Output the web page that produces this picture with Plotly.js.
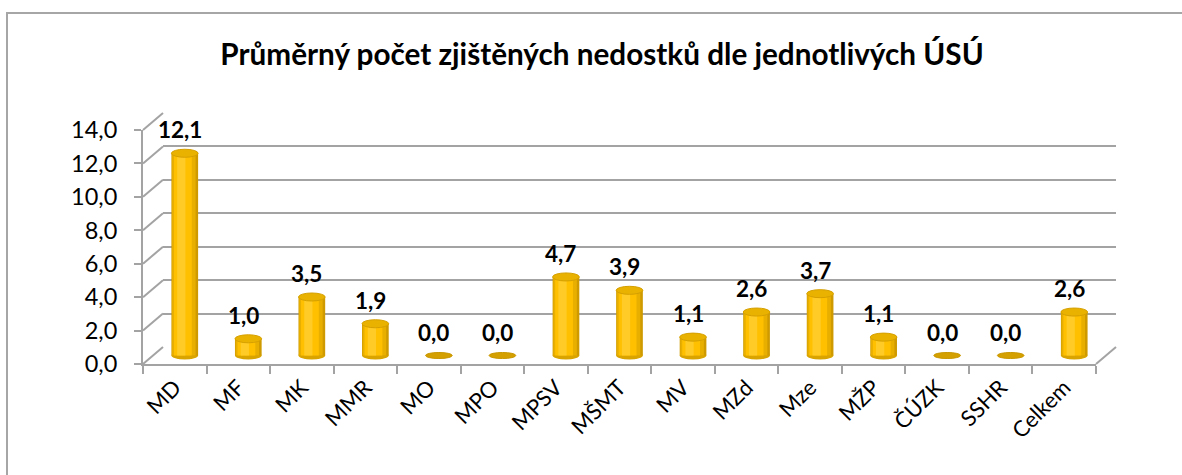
<!DOCTYPE html>
<html>
<head>
<meta charset="utf-8">
<script src="https://cdn.plot.ly/plotly-3.0.1.min.js"></script>
<style>html,body{margin:0;padding:0;background:#fff;}#chart{width:1182px;height:475px;}</style>
</head>
<body>
<div id="chart"></div>
<script>
// ---- data ----
const categories = ["MD","MF","MK","MMR","MO","MPO","MPSV","MŠMT","MV","MZd","Mze","MŽP","ČÚZK","SSHR","Celkem"];
const values = [12.1, 1.0, 3.5, 1.9, 0.0, 0.0, 4.7, 3.9, 1.1, 2.6, 3.7, 1.1, 0.0, 0.0, 2.6];
const yTicks = [0, 2, 4, 6, 8, 10, 12, 14];
const chartTitle = "Průměrný počet zjištěných nedostků dle jednotlivých ÚSÚ";

// ---- geometry (pixels) ----
const W = 1182, H = 475;
const px = x => x / W;
const py = y => 1 - y / H;
const front = {x0: 143, x1: 1096, y0: 364, y1: 130};
const depth = {dx: 20, dy: -17};
const back = {x0: front.x0 + depth.dx, x1: front.x1 + depth.dx, y0: front.y0 + depth.dy, y1: front.y1 + depth.dy};
const mid = {x0: front.x0 + depth.dx/2, x1: front.x1 + depth.dx/2, y0: front.y0 + depth.dy/2, y1: front.y1 + depth.dy/2};
const yMax = 14;
const unitPx = (front.y0 - front.y1) / yMax;
const yPadBelow = 0.6; // extra range below zero so that cylinder bottoms are not clipped
const gridCol = "#a3a3a3";
const fontFam = "Lato, 'Open Sans', sans-serif";
const catRange = [-0.5, categories.length - 0.5];

const fmt = v => v.toFixed(1).replace(".", ",");

// cylinder shading layers
const layers = [
  {w: 0.42, off: -0.21, c: "#CE9A00"},
  {w: 0.37, off: -0.20, c: "#E9AF00"},
  {w: 0.28, off: -0.17, c: "#FFC000"},
  {w: 0.13, off: -0.12, c: "#FFCB26"}
];

const traces = [];
// invisible traces so that the front axes and the back wall are drawn
traces.push({type: "scatter", x: categories, y: values, xaxis: "x", yaxis: "y", mode: "markers",
  marker: {opacity: 0}, hoverinfo: "skip", showlegend: false});
traces.push({type: "scatter", x: categories, y: values, xaxis: "x2", yaxis: "y2", mode: "markers",
  marker: {opacity: 0}, hoverinfo: "skip", showlegend: false});
layers.forEach(l => {
  traces.push({type: "bar", x: categories, y: values, xaxis: "x3", yaxis: "y3",
    width: l.w, offset: l.off, marker: {color: l.c, line: {width: 0}},
    hoverinfo: "skip", showlegend: false});
});

const shapes = [];
// outer frame (chart border)
shapes.push({type: "rect", xref: "paper", yref: "paper", x0: px(7), x1: 1.02, y0: -0.05, y1: py(13),
  line: {color: "#a6a6a6", width: 2}, fillcolor: "rgba(0,0,0,0)", layer: "below"});
// left wall diagonals from front ticks to back gridlines
const yF = v => front.y0 - unitPx * v;
const yB = v => back.y0 - unitPx * v;
yTicks.forEach(v => {
  shapes.push({type: "line", xref: "paper", yref: "paper",
    x0: px(front.x0), y0: py(yF(v)), x1: px(back.x0), y1: py(yB(v)),
    line: {color: gridCol, width: 2}, layer: "below"});
});
// right floor diagonal
shapes.push({type: "line", xref: "paper", yref: "paper",
  x0: px(front.x1), y0: py(front.y0), x1: px(back.x1), y1: py(back.y0),
  line: {color: gridCol, width: 2}, layer: "below"});

// cylinder bottoms and tops
const eh = 0.24;
values.forEach((v, i) => {
  if (v > 0) {
    shapes.push({type: "circle", xref: "x3", yref: "y3", x0: i - 0.21, x1: i + 0.21, y0: -eh, y1: eh,
      fillcolor: "#D9A400", line: {width: 0}, layer: "below"});
  }
  shapes.push({type: "circle", xref: "x3", yref: "y3", x0: i - 0.21, x1: i + 0.21,
    y0: v - (v > 0 ? eh : 0.18), y1: v + (v > 0 ? eh : 0.18),
    fillcolor: v > 0 ? "#EAB200" : "#D4A000", line: {color: v > 0 ? "#D5A000" : "#C89600", width: 1}, layer: "above"});
});

const annotations = values.map((v, i) => ({
  xref: "x3", yref: "y3", x: categories[i], y: v, text: "<b>" + fmt(v) + "</b>",
  showarrow: false, yanchor: "bottom", xanchor: "center", yshift: 8, xshift: -5,
  font: {family: fontFam, size: 22.5, color: "#000"}
}));

const catAxis = {type: "category", categoryorder: "array", categoryarray: categories, range: catRange};

const layout = {
  width: W, height: H,
  margin: {l: 0, r: 0, t: 0, b: 0},
  paper_bgcolor: "#fff", plot_bgcolor: "rgba(0,0,0,0)",
  separators: ", ",
  showlegend: false,
  hovermode: false,
  barmode: "overlay",
  title: {text: "<b>" + chartTitle + "</b>", x: 602 / W, xanchor: "center", y: py(55), yanchor: "middle",
    font: {family: fontFam, size: 29.7, color: "#000"}},
  // front axes (labels, ticks, axis lines)
  xaxis: Object.assign({}, catAxis, {domain: [px(front.x0), px(front.x1)], anchor: "y",
    showline: true, linecolor: gridCol, linewidth: 2, showgrid: false, zeroline: false,
    ticks: "outside", tickson: "boundaries", ticklen: 8, tickcolor: gridCol, tickwidth: 2,
    tickangle: -45, tickfont: {family: fontFam, size: 22, color: "#000"}}),
  yaxis: {domain: [py(front.y0), py(front.y1)], anchor: "x", range: [0, yMax], tickvals: yTicks,
    tickformat: ".1f", showline: true, linecolor: gridCol, linewidth: 2, showgrid: false, zeroline: false,
    ticks: "outside", ticklen: 7, tickcolor: gridCol, tickwidth: 2, ticklabelstandoff: 12,
    tickfont: {family: fontFam, size: 23.5, color: "#000"}},
  // back wall (gridlines)
  xaxis2: Object.assign({}, catAxis, {domain: [px(back.x0), px(back.x1)], anchor: "y2",
    showline: false, showgrid: false, showticklabels: false, ticks: "", zeroline: false}),
  yaxis2: {domain: [py(back.y0), py(back.y1)], anchor: "x2", range: [0, yMax], tickvals: yTicks,
    showgrid: true, gridcolor: gridCol, gridwidth: 2, showticklabels: false, ticks: "", zeroline: false, showline: false},
  // middle plane (cylinders)
  xaxis3: Object.assign({}, catAxis, {domain: [px(mid.x0), px(mid.x1)], anchor: "y3",
    showline: false, showgrid: false, showticklabels: false, ticks: "", zeroline: false}),
  yaxis3: {domain: [py(mid.y0 + unitPx * yPadBelow), py(mid.y1)], anchor: "x3", range: [-yPadBelow, yMax],
    showline: false, showgrid: false, showticklabels: false, ticks: "", zeroline: false},
  shapes: shapes,
  annotations: annotations
};

Plotly.newPlot("chart", traces, layout, {displayModeBar: false, staticPlot: true});
</script>
</body>
</html>
